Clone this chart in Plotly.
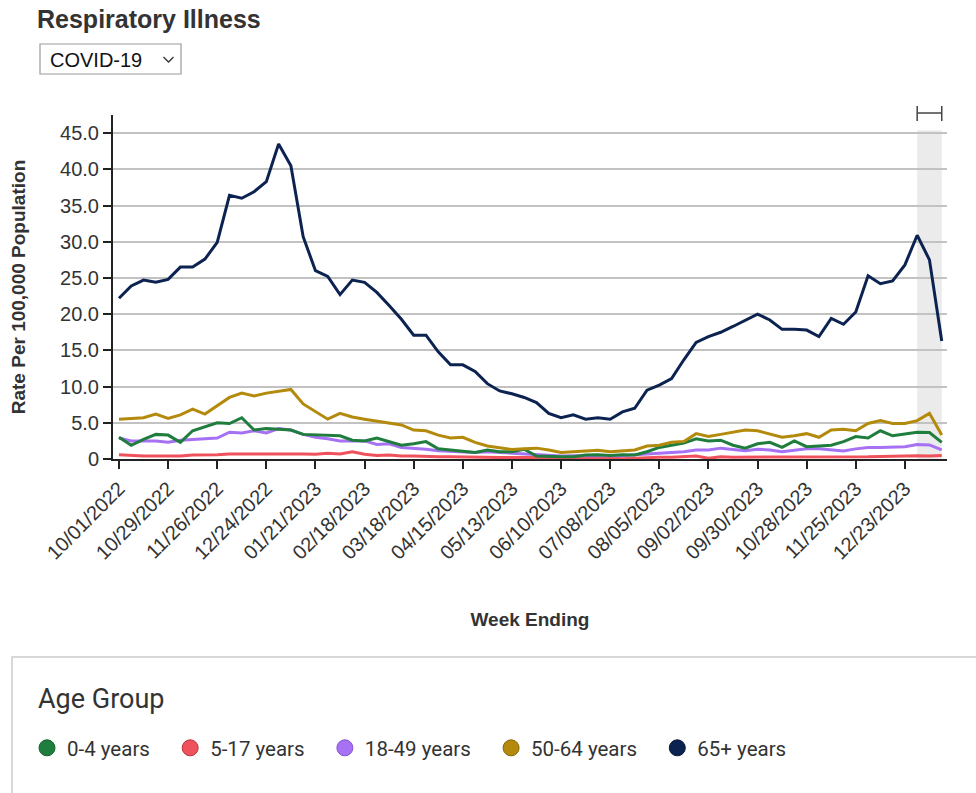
import pandas as pd
import plotly.graph_objects as go

# ---------------- data ----------------
start_week = "2022-10-01"
n_weeks = 68
week_ending = pd.date_range(start_week, periods=n_weeks, freq="7D")

age_groups = ["0-4 years", "5-17 years", "18-49 years", "50-64 years", "65+ years"]

rate_0_4 = [3.0, 1.9, 2.7, 3.4, 3.3, 2.3, 3.9, 4.4, 5.0, 4.9, 5.7, 4.0, 4.2, 4.1, 4.0, 3.4, 3.3, 3.2, 3.2, 2.6,
            2.5, 2.9, 2.4, 1.9, 2.1, 2.4, 1.4, 1.25, 1.1, 0.9, 1.25, 1.0, 1.0, 1.35, 0.4, 0.3, 0.3, 0.3, 0.55, 0.6,
            0.5, 0.6, 0.55, 1.0, 1.6, 1.9, 2.2, 2.8, 2.5, 2.6, 1.9, 1.5, 2.1, 2.3, 1.6, 2.5, 1.7, 1.8, 1.9, 2.4,
            3.1, 2.9, 3.9, 3.2, 3.4, 3.7, 3.65, 2.3]
rate_5_17 = [0.6, 0.45, 0.4, 0.4, 0.4, 0.4, 0.55, 0.55, 0.6, 0.7, 0.7, 0.8, 0.8, 0.8, 0.8, 0.7, 0.65, 0.8, 0.7, 1.0,
             0.65, 0.5, 0.55, 0.4, 0.4, 0.3, 0.3, 0.3, 0.25, 0.25, 0.2, 0.2, 0.2, 0.2, 0.2, 0.2, 0.2, 0.2, 0.2, 0.2,
             0.2, 0.05, 0.15, 0.2, 0.25, 0.25, 0.3, 0.4, 0.1, 0.3, 0.25, 0.25, 0.25, 0.25, 0.2, 0.25, 0.25, 0.25, 0.25, 0.25,
             0.25, 0.3, 0.35, 0.4, 0.45, 0.45, 0.4, 0.5]
rate_18_49 = [2.9, 2.5, 2.5, 2.5, 2.3, 2.6, 2.7, 2.8, 2.9, 3.7, 3.6, 3.9, 3.6, 4.2, 4.0, 3.4, 3.0, 2.8, 2.5, 2.5,
              2.5, 2.0, 2.1, 1.6, 1.5, 1.35, 1.15, 1.1, 1.05, 0.9, 1.0, 0.9, 0.8, 0.65, 0.5, 0.4, 0.4, 0.45, 0.45, 0.4,
              0.35, 0.45, 0.6, 0.7, 0.8, 1.0, 1.0, 1.25, 1.25, 1.5, 1.35, 1.15, 1.35, 1.25, 1.0, 1.25, 1.4, 1.4, 1.25, 1.1,
              1.4, 1.6, 1.6, 1.6, 1.7, 2.0, 1.95, 1.25]
rate_50_64 = [5.5, 5.6, 5.7, 6.2, 5.6, 6.1, 6.9, 6.2, 7.4, 8.5, 9.1, 8.7, 9.1, 9.4, 9.6, 7.6, 6.6, 5.5, 6.3, 5.8,
              5.5, 5.2, 4.9, 4.7, 4.0, 3.9, 3.3, 2.9, 3.0, 2.3, 1.8, 1.6, 1.3, 1.4, 1.5, 1.25, 0.9, 1.0, 1.1, 1.2,
              1.0, 1.15, 1.25, 1.8, 1.9, 2.3, 2.4, 3.5, 3.1, 3.4, 3.7, 4.0, 3.9, 3.4, 3.0, 3.2, 3.5, 3.0, 4.0, 4.1,
              3.9, 4.9, 5.3, 4.9, 4.9, 5.3, 6.3, 3.3]
rate_65_plus = [22.2, 23.9, 24.7, 24.4, 24.8, 26.5, 26.5, 27.6, 29.9, 36.4, 36.0, 36.9, 38.3, 43.5, 40.5, 30.7, 26.0, 25.2, 22.7, 24.7,
                24.4, 23.0, 21.2, 19.3, 17.1, 17.1, 14.8, 13.0, 13.0, 12.1, 10.4, 9.4, 9.0, 8.5, 7.8, 6.3, 5.7, 6.1, 5.5, 5.7,
                5.5, 6.5, 7.0, 9.5, 10.2, 11.1, 13.7, 16.1, 16.9, 17.5, 18.3, 19.2, 20.0, 19.2, 17.9, 17.9, 17.8, 16.9, 19.4, 18.6,
                20.3, 25.3, 24.2, 24.6, 26.8, 30.9, 27.5, 16.3]

series = [rate_0_4, rate_5_17, rate_18_49, rate_50_64, rate_65_plus]
colors = ["#1f7d3d", "#f0525c", "#a771f4", "#b38a0c", "#0c2352"]
marker_lines = ["#15602c", "#b8323b", "#8453d0", "#8a6608", "#061638"]

y_tickvals = [0, 5, 10, 15, 20, 25, 30, 35, 40, 45]
y_ticktext = ["0", "5.0", "10.0", "15.0", "20.0", "25.0", "30.0", "35.0", "40.0", "45.0"]
incomplete_weeks = 3  # shaded (incomplete) weeks at the end

# ---------------- geometry helpers ----------------
W, H = 976, 793
ML, MR, MT, MB = 113, 29, 115, 334
PW, PH = W - ML - MR, H - MT - MB


def px(x):
    return (x - ML) / PW


def py(y):
    return (H - MB - y) / PH


fig = go.Figure()

# line traces (drawn bottom to top: red, purple, green, gold, navy)
for idx in [1, 2, 0, 3, 4]:
    fig.add_trace(go.Scatter(
        x=week_ending, y=series[idx], mode="lines", name=age_groups[idx],
        line=dict(color=colors[idx], width=3), showlegend=False,
        hovertemplate="%{x|%m/%d/%Y}: %{y:.1f}<extra>" + age_groups[idx] + "</extra>"))

# legend entries (circles)
pad = "\u00a0\u00a0\u00a0"
for idx in range(5):
    fig.add_trace(go.Scatter(
        x=[None], y=[None], mode="markers", name=age_groups[idx] + pad,
        marker=dict(color=colors[idx], size=19, symbol="circle",
                    line=dict(color=marker_lines[idx], width=1)),
        showlegend=True))

x_start = week_ending[0] - pd.Timedelta(days=3.4)
x_end = week_ending[-1] + pd.Timedelta(days=3.0)

shapes = []
# shaded incomplete-data band
shapes.append(dict(type="rect", xref="x", yref="y",
                   x0=week_ending[-incomplete_weeks], x1=week_ending[-1], y0=0, y1=45.4,
                   fillcolor="#ebebeb", line=dict(width=0), layer="below"))
# bracket above band
bc = "#444444"
shapes.append(dict(type="line", xref="x", yref="paper",
                   x0=week_ending[-incomplete_weeks], x1=week_ending[-1], y0=py(113), y1=py(113),
                   line=dict(color=bc, width=1.5)))
shapes.append(dict(type="line", xref="x", yref="paper",
                   x0=week_ending[-incomplete_weeks], x1=week_ending[-incomplete_weeks], y0=py(106), y1=py(121),
                   line=dict(color=bc, width=1.5)))
shapes.append(dict(type="line", xref="x", yref="paper",
                   x0=week_ending[-1], x1=week_ending[-1], y0=py(106), y1=py(121),
                   line=dict(color=bc, width=1.5)))
# dropdown box
shapes.append(dict(type="rect", xref="paper", yref="paper",
                   x0=px(40), x1=px(181), y0=py(74), y1=py(44),
                   fillcolor="white", line=dict(color="#9a9a9a", width=1.2)))
shapes.append(dict(type="path", xref="paper", yref="paper",
                   path=f"M {px(163.5)},{py(57)} L {px(168.5)},{py(62)} L {px(173.5)},{py(57)}",
                   line=dict(color="#333333", width=1.3)))
# legend panel border
shapes.append(dict(type="rect", xref="paper", yref="paper",
                   x0=px(12), x1=px(1000), y0=py(820), y1=py(657),
                   fillcolor="rgba(0,0,0,0)", line=dict(color="#d8d8d8", width=2)))

annotations = [
    dict(text="COVID-19", xref="paper", yref="paper", x=px(48), y=py(60),
         xanchor="left", yanchor="middle", showarrow=False,
         font=dict(family="Liberation Sans, Arial, sans-serif", size=20, color="#111111")),
    dict(text="Age Group", xref="paper", yref="paper", x=px(36), y=py(699),
         xanchor="left", yanchor="middle", showarrow=False,
         font=dict(family="Roboto, sans-serif", size=27, color="#333333")),
]

base_font = "Liberation Sans, Arial, Helvetica, sans-serif"

fig.update_layout(
    width=W, height=H,
    margin=dict(l=ML, r=MR, t=MT, b=MB),
    paper_bgcolor="white", plot_bgcolor="white",
    font=dict(family=base_font, size=19, color="#333333"),
    title=dict(text="<b>Respiratory Illness</b>", xref="container", yref="container",
               x=37 / W, y=1 - 19 / H, xanchor="left", yanchor="middle",
               font=dict(family=base_font, size=25, color="#333333")),
    xaxis=dict(
        type="date", range=[x_start, x_end],
        tick0=start_week, dtick=28 * 86400000, tickformat="%m/%d/%Y", tickangle=-45,
        ticks="outside", ticklen=8, tickwidth=2, tickcolor="#222222",
        showline=True, linecolor="#222222", linewidth=2, showgrid=False, zeroline=False,
        tickfont=dict(size=20, color="#333333"),
        title=dict(text="<b>Week Ending</b>", standoff=50, font=dict(size=19, color="#333333")),
    ),
    yaxis=dict(
        range=[0, 47.5], tickvals=y_tickvals, ticktext=y_ticktext,
        ticks="outside", ticklen=8, tickwidth=2, tickcolor="#222222",
        showline=True, linecolor="#222222", linewidth=2,
        showgrid=True, gridcolor="#c2c2c2", gridwidth=2, zeroline=False,
        tickfont=dict(size=20, color="#333333"),
        title=dict(text="<b>Rate Per 100,000 Population</b>", standoff=29,
                   font=dict(size=19, color="#333333")),
    ),
    legend=dict(
        orientation="h", x=px(27), xanchor="left", y=py(748), yanchor="middle",
        font=dict(family="Roboto, sans-serif", size=20.5, color="#333333"),
        bgcolor="rgba(0,0,0,0)", borderwidth=0, traceorder="normal",
        itemclick=False, itemdoubleclick=False,
    ),
    shapes=shapes,
    annotations=annotations,
    hovermode="closest",
)

fig.write_html("out.html",
               config={"displayModeBar": False},
               post_script="document.body.style.margin='0px';document.body.style.overflow='hidden';")
